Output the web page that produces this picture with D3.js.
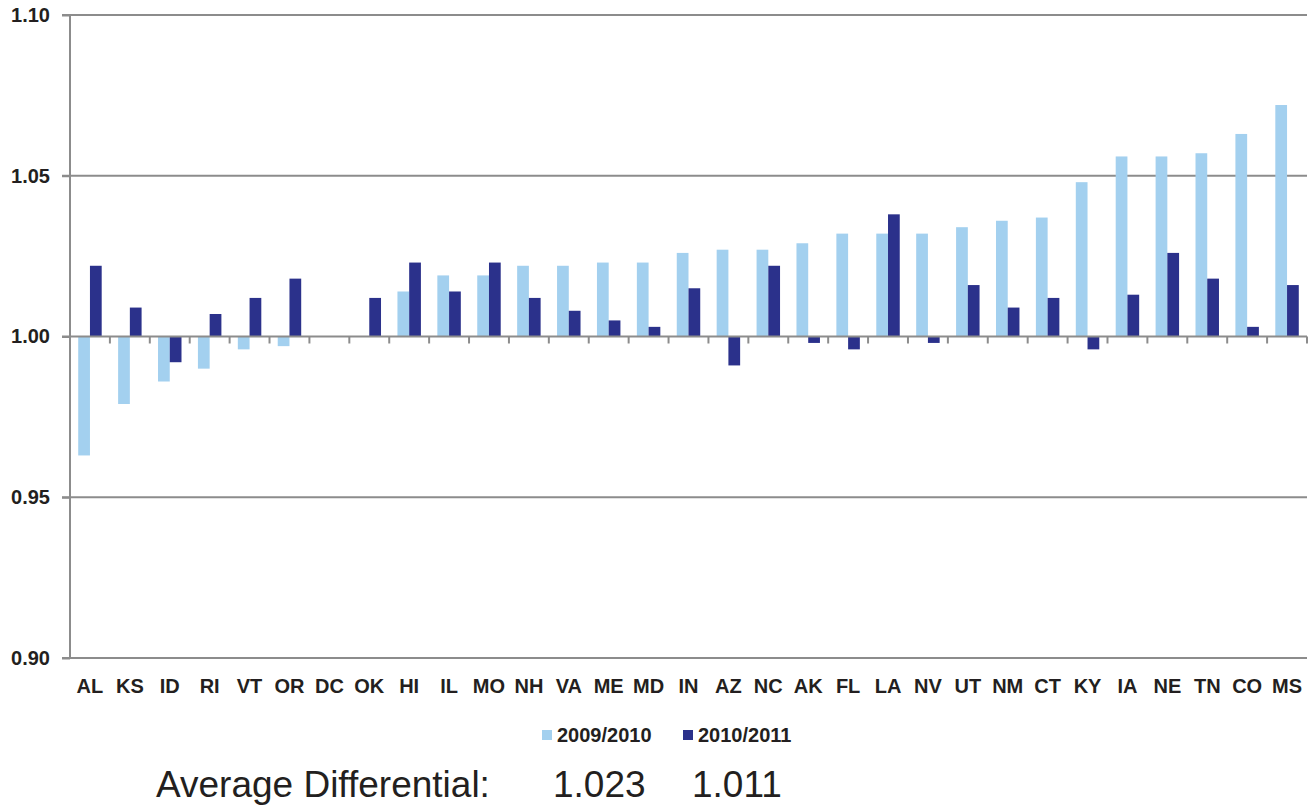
<!DOCTYPE html>
<html>
<head>
<meta charset="utf-8">
<script src="https://cdn.jsdelivr.net/npm/d3@7"></script>
<style>
  html, body { margin: 0; padding: 0; background: #fff; }
  svg { display: block; font-family: "Liberation Sans", Arial, Helvetica, sans-serif; }
</style>
</head>
<body>
<svg id="chart" width="1315" height="805"></svg>
<script>
const states = ["AL","KS","ID","RI","VT","OR","DC","OK","HI","IL","MO","NH","VA","ME","MD","IN","AZ","NC","AK","FL","LA","NV","UT","NM","CT","KY","IA","NE","TN","CO","MS"];
const series = ["2009/2010", "2010/2011"];
const values2009 = [0.963,0.979,0.986,0.990,0.996,0.997,1.000,1.000,1.014,1.019,1.019,1.022,1.022,1.023,1.023,1.026,1.027,1.027,1.029,1.032,1.032,1.032,1.034,1.036,1.037,1.048,1.056,1.056,1.057,1.063,1.072];
const values2010 = [1.022,1.009,0.992,1.007,1.012,1.018,1.000,1.012,1.023,1.014,1.023,1.012,1.008,1.005,1.003,1.015,0.991,1.022,0.998,0.996,1.038,0.998,1.016,1.009,1.012,0.996,1.013,1.026,1.018,1.003,1.016];
const yTicks = [0.90, 0.95, 1.00, 1.05, 1.10];
const averages = ["1.023", "1.011"];
const colors = ["#a3d0ef", "#2b318b"];

const svg = d3.select("#chart");
const mLeft = 70, mRight = 1307, mTop = 15, mBottom = 658;

const y = d3.scaleLinear().domain([0.90, 1.10]).range([mBottom, mTop]);
const x0 = d3.scaleBand().domain(states).range([mLeft, mRight]).padding(0);
const x1 = d3.scaleBand().domain(series).range([0, x0.bandwidth()]).paddingInner(0).paddingOuter(0.7);

const axisColor = "#8c8c8c";

// gridlines (except baseline)
svg.append("g").selectAll("line").data(yTicks.filter(t => t !== 1.00)).join("line")
  .attr("x1", mLeft - 8).attr("x2", mRight)
  .attr("y1", d => y(d)).attr("y2", d => y(d))
  .attr("stroke", axisColor).attr("stroke-width", 2);

// bars
const data = [values2009, values2010];
series.forEach((s, i) => {
  svg.append("g").selectAll("rect").data(states).join("rect")
    .attr("x", (d) => x0(d) + x1(s))
    .attr("width", x1.bandwidth())
    .attr("y", (d, j) => y(Math.max(data[i][j], 1)))
    .attr("height", (d, j) => Math.abs(y(data[i][j]) - y(1)))
    .attr("fill", colors[i]);
});

// y axis
const yAxis = d3.axisLeft(y).tickValues(yTicks).tickFormat(d3.format(".2f")).tickSize(8).tickPadding(12);
const gy = svg.append("g").attr("transform", `translate(${mLeft},0)`).call(yAxis);
gy.select(".domain").remove();
gy.selectAll(".tick line").attr("stroke", axisColor).attr("stroke-width", 2);
gy.selectAll(".tick text").attr("fill", "#231f20").attr("font-size", 20).attr("font-weight", "bold")
  .attr("font-family", "'Liberation Sans', Arial, sans-serif");
svg.append("line").attr("x1", mLeft).attr("x2", mLeft).attr("y1", mTop).attr("y2", mBottom)
  .attr("stroke", axisColor).attr("stroke-width", 2);

// baseline at 1.00 with category ticks
svg.append("line").attr("x1", mLeft - 8).attr("x2", mRight).attr("y1", y(1)).attr("y2", y(1))
  .attr("stroke", axisColor).attr("stroke-width", 2);
const boundaries = states.map(s => x0(s) + x0.bandwidth());
svg.append("g").selectAll("line").data(boundaries).join("line")
  .attr("x1", d => d).attr("x2", d => d)
  .attr("y1", y(1)).attr("y2", y(1) + 7)
  .attr("stroke", axisColor).attr("stroke-width", 2);

// category labels
const xAxis = d3.axisBottom(x0).tickSize(0).tickPadding(0);
const gx = svg.append("g").attr("transform", `translate(0,${mBottom})`).call(xAxis);
gx.select(".domain").remove();
gx.selectAll(".tick text").attr("fill", "#231f20").attr("font-size", 20).attr("font-weight", "bold")
  .attr("font-family", "'Liberation Sans', Arial, sans-serif")
  .attr("dy", null).attr("y", 35);

// legend
const legend = svg.append("g");
const legendX = [542, 683];
series.forEach((s, i) => {
  legend.append("rect").attr("x", legendX[i]).attr("y", 730).attr("width", 10).attr("height", 10).attr("fill", colors[i]);
  legend.append("text").attr("x", legendX[i] + 15).attr("y", 742).text(s)
    .attr("font-size", 20).attr("font-weight", "bold").attr("fill", "#231f20");
});

// average differential
svg.append("text").attr("x", 156).attr("y", 797).text("Average Differential:")
  .attr("font-size", 37).attr("fill", "#231f20");
const avgX = [553, 692];
averages.forEach((a, i) => {
  svg.append("text").attr("x", avgX[i]).attr("y", 797).text(a)
    .attr("font-size", 37).attr("fill", "#231f20");
});
</script>
</body>
</html>
